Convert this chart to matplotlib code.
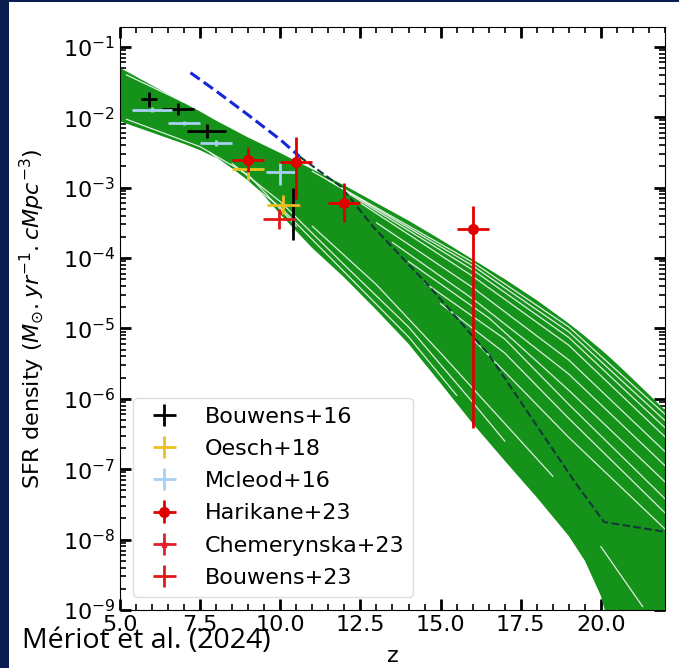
import numpy as np
import matplotlib.pyplot as plt
from matplotlib.patches import Rectangle

plt.rcParams['font.family'] = 'DejaVu Sans'
plt.rcParams['mathtext.fontset'] = 'dejavusans'

# envelope of the model curves, log10(SFRD)
band_z = [5, 6, 7, 7.5, 8, 8.5, 9, 9.5, 10, 11, 12, 13, 14, 15, 16, 17, 18, 19, 19.5, 20, 20.3, 21, 22]
band_hi = [-1.30, -1.55, -1.80, -1.92, -2.05, -2.17, -2.29, -2.40, -2.51, -2.74, -2.97, -3.22, -3.47,
           -3.74, -4.02, -4.30, -4.60, -4.93, -5.11, -5.30, -5.42, -5.72, -6.16]
band_lo = [-2.06, -2.22, -2.38, -2.47, -2.58, -2.73, -2.90, -3.12, -3.38, -3.86, -4.28, -4.74, -5.22,
           -5.78, -6.35, -6.88, -7.40, -7.95, -8.30, -8.80, -9.30, -10.5, -11.5]

# white gaps visible between groups of model curves (z, log10 SFRD)
gap_lines = [
    ([5.2, 7.0], [-1.40, -1.79]),
    ([5.2, 7.5, 9, 10.5], [-2.03, -2.42, -2.82, -3.55]),
    ([11.0, 16, 19, 22], [-2.77, -4.06, -4.98, -6.22]),
    ([11.5, 16, 19, 22], [-2.90, -4.11, -5.05, -6.31]),
    ([12.0, 16, 19, 22], [-3.05, -4.17, -5.13, -6.41]),
    ([12.5, 16, 19, 22], [-3.22, -4.26, -5.24, -6.54]),
    ([13.0, 16, 19, 22], [-3.50, -4.42, -5.45, -6.75]),
    ([13.5, 16, 19, 22], [-3.78, -4.58, -5.65, -6.95]),
    ([14.0, 16.5, 19, 22], [-4.05, -4.85, -5.88, -7.18]),
    ([14.5, 17, 19, 22], [-4.35, -5.15, -6.08, -7.42]),
    ([15.0, 17, 19, 22], [-4.65, -5.35, -6.28, -7.62]),
    ([16.0, 19, 22], [-5.15, -6.55, -7.85]),
    ([7.8, 10, 12, 14, 15.5], [-2.50, -3.28, -4.20, -5.12, -5.95]),
    ([8.5, 10, 12, 14, 16, 17], [-2.66, -3.20, -4.10, -4.98, -6.05, -6.60]),
    ([11.0, 13, 15, 17, 18.5], [-3.55, -4.38, -5.35, -6.35, -7.10]),
    ([20.0, 21.3], [-8.10, -8.95]),
]

# reference model (dashed)
dash_z = [7.2, 8.0, 9.0, 10.0, 10.6, 11.9, 12.9, 14.6, 16.5, 19.2, 20.1, 22.0]
dash_log = [-1.37, -1.63, -1.97, -2.32, -2.56, -2.99, -3.56, -4.38, -5.37, -7.19, -7.75, -7.89]

# observations: z, value, lower, upper, half-width in z
b16_z = [5.9, 6.8, 7.7, 10.4]
b16_y = [0.0178, 0.013, 0.0063, 5.7e-4]
b16_lo = [0.0141, 0.0107, 0.0050, 1.8e-4]
b16_hi = [0.0224, 0.0158, 0.0079, 1.0e-3]
b16_dz = [0.25, 0.5, 0.6, 0.2]

o18_z = [9.0, 10.1]
o18_y = [1.85e-3, 5.7e-4]
o18_lo = [1.3e-3, 4.2e-4]
o18_hi = [2.3e-3, 7.8e-4]
o18_dz = [0.5, 0.5]

m16_z = [6.0, 7.0, 8.0, 10.0]
m16_y = [0.0127, 8.3e-3, 4.3e-3, 1.65e-3]
m16_lo = [0.0118, 7.7e-3, 3.9e-3, 1.1e-3]
m16_hi = [0.0137, 8.9e-3, 4.7e-3, 2.24e-3]
m16_dz = [0.62, 0.5, 0.5, 0.45]

h23_z = [9.0, 10.5, 12.0, 16.0]
h23_y = [2.5e-3, 2.3e-3, 6.0e-4, 2.6e-4]
h23_lo = [1.66e-3, 6.8e-4, 3.2e-4, 3.9e-7]
h23_hi = [3.8e-3, 5.2e-3, 1.17e-3, 5.4e-4]
h23_dz = [0.5, 0.5, 0.5, 0.5]

c23_z = []
c23_y = []
c23_lo = []
c23_hi = []
c23_dz = []

b23_z = [9.95]
b23_y = [3.6e-4]
b23_lo = [2.6e-4]
b23_hi = [5.0e-4]
b23_dz = [0.5]

green = '#15921a'

fig = plt.figure(figsize=(6.79, 6.68), dpi=100)
fig.patch.set_facecolor('#0b1d50')
panel = Rectangle((9 / 679, 0), 1, 666 / 668, transform=fig.transFigure,
                  facecolor='white', edgecolor='none', zorder=-10)
fig.add_artist(panel)

ax = fig.add_axes([0.1767, 0.0868, 0.8027, 0.8728])

ax.plot(dash_z[:5], np.power(10.0, dash_log[:5]), ls='--', color='#1428d8', lw=2.2, zorder=1)
ax.fill_between(band_z, np.power(10.0, band_lo), np.power(10.0, band_hi),
                color=green, lw=0, zorder=2)
for gz, gl in gap_lines:
    ax.plot(gz, np.power(10.0, gl), color='white', lw=0.9, alpha=0.85, zorder=3)
ax.plot(dash_z[4:], np.power(10.0, dash_log[4:]), ls='--', color='#123a38', lw=1.5, zorder=4)


def obs(z, y, lo, hi, dz, color, label, fmt='none', ms=0):
    y = np.array(y)
    yerr = [y - np.array(lo), np.array(hi) - y]
    ax.errorbar(z, y, xerr=dz, yerr=yerr, fmt=fmt, color=color, ecolor=color,
                elinewidth=2, capsize=0, ms=ms, label=label, zorder=5)


obs(b16_z, b16_y, b16_lo, b16_hi, b16_dz, 'black', 'Bouwens+16')
obs(o18_z, o18_y, o18_lo, o18_hi, o18_dz, '#ecc020', 'Oesch+18')
obs(m16_z, m16_y, m16_lo, m16_hi, m16_dz, '#a8d0f2', 'Mcleod+16')
obs(h23_z, h23_y, h23_lo, h23_hi, h23_dz, '#e00000', 'Harikane+23', fmt='o', ms=7)
obs(c23_z, c23_y, c23_lo, c23_hi, c23_dz, '#e0202c', 'Chemerynska+23', fmt='*', ms=6)
obs(b23_z, b23_y, b23_lo, b23_hi, b23_dz, '#e01818', 'Bouwens+23')

ax.set_yscale('log')
ax.set_xlim(5, 22)
ax.set_ylim(1e-9, 10 ** -0.72)
ax.set_xticks([5.0, 7.5, 10.0, 12.5, 15.0, 17.5, 20.0])
ax.set_xticks(np.arange(5, 22.01, 0.5), minor=True)
ax.tick_params(which='both', direction='in', top=True, right=True, labelsize=16)
ax.tick_params(which='major', length=8, width=2)
ax.tick_params(which='minor', length=4, width=1.2)
ax.set_xlabel('z', fontsize=16, labelpad=8)
ax.set_ylabel(r'SFR density ($M_{\odot}.yr^{-1}.cMpc^{-3}$)', fontsize=16)
ax.yaxis.set_label_coords(-0.135, 0.5)

ax.legend(loc='lower left', fontsize=16, edgecolor='#dddddd', framealpha=1,
          labelspacing=0.55, handletextpad=0.8, borderaxespad=0.6)

fig.text(0.032, 0.03, 'Mériot et al. (2024)', fontsize=20.5, family='Open Sans', color='black')

fig.savefig('out.png', dpi=100, facecolor=fig.get_facecolor())
